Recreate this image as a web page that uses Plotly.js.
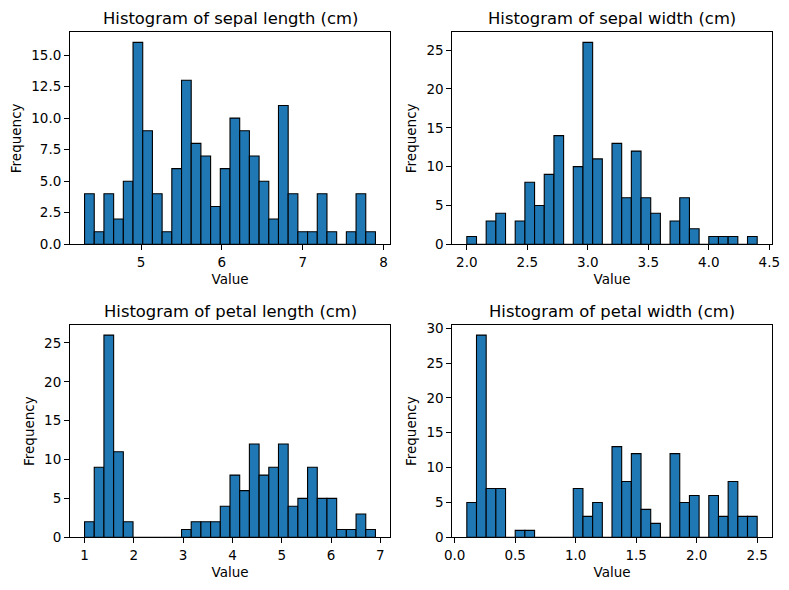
<!DOCTYPE html>
<html>
<head>
<meta charset="utf-8">
<script src="https://cdn.plot.ly/plotly-3.0.1.min.js"></script>
<style>html,body{margin:0;padding:0;background:#fff;}#chart{width:789px;height:590px;}</style>
</head>
<body>
<div id="chart"></div>
<script>
// Feature names and histogram data (30 bins each)
const features = ["sepal length (cm)", "sepal width (cm)", "petal length (cm)", "petal width (cm)"];
const binMin = [4.3, 2.0, 1.0, 0.1];
const binMax = [7.9, 4.4, 6.9, 2.5];
const sepalLengthCounts = [4,1,4,2,5,16,9,4,1,6,13,8,7,3,6,10,9,7,5,2,11,4,1,1,4,1,0,1,4,1];
const sepalWidthCounts  = [1,0,3,4,0,3,8,5,9,14,0,10,26,11,0,13,6,12,6,4,0,3,6,2,0,1,1,1,0,1];
const petalLengthCounts = [2,9,26,11,2,0,0,0,0,0,1,2,2,2,4,8,6,12,8,9,12,4,5,9,5,5,1,1,3,1];
const petalWidthCounts  = [5,29,7,7,0,1,1,0,0,0,0,7,3,5,0,13,8,12,4,2,0,12,5,6,0,6,3,8,3,3];
const allCounts = [sepalLengthCounts, sepalWidthCounts, petalLengthCounts, petalWidthCounts];
const xTickVals = [[5,6,7,8],[2.0,2.5,3.0,3.5,4.0,4.5],[1,2,3,4,5,6,7],[0.0,0.5,1.0,1.5,2.0,2.5]];
const xTickText = [["5","6","7","8"],["2.0","2.5","3.0","3.5","4.0","4.5"],["1","2","3","4","5","6","7"],["0.0","0.5","1.0","1.5","2.0","2.5"]];
const yTickVals = [[0,2.5,5,7.5,10,12.5,15],[0,5,10,15,20,25],[0,5,10,15,20,25],[0,5,10,15,20,25,30]];
const yTickText = [["0.0","2.5","5.0","7.5","10.0","12.5","15.0"],["0","5","10","15","20","25"],["0","5","10","15","20","25"],["0","5","10","15","20","25","30"]];

const W = 789, H = 590;
// axes boxes in pixels [left, right, top, bottom]
const boxes = [[70,390,32.3,244.3],[452.3,771.7,32.3,244.3],[70,390,325,537.3],[452.3,771.7,325,537.3]];

const font = "DejaVu Sans, sans-serif";
const traces = [];
const layout = {
  width: W, height: H,
  margin: {l:0, r:0, t:0, b:0},
  paper_bgcolor: "#ffffff", plot_bgcolor: "#ffffff",
  showlegend: false, bargap: 0,
  font: {family: font, size: 13.5, color: "#000"},
  annotations: []
};

for (let i = 0; i < 4; i++) {
  const n = allCounts[i].length;
  const w = (binMax[i] - binMin[i]) / n;
  const xs = allCounts[i].map((_, k) => binMin[i] + (k + 0.5) * w);
  const suffix = i === 0 ? "" : String(i + 1);
  traces.push({
    type: "bar", x: xs, y: allCounts[i], width: xs.map(() => w),
    xaxis: "x" + suffix, yaxis: "y" + suffix,
    marker: {color: "#1f77b4", line: {color: "#000000", width: 1.1}},
    hoverinfo: "x+y"
  });
  const b = boxes[i];
  const pad = (binMax[i] - binMin[i]) * 0.05;
  const ymax = Math.max(...allCounts[i]) * 1.05;
  const axCommon = {
    showline: true, mirror: true, linecolor: "#000", linewidth: 1,
    showgrid: false, zeroline: false,
    ticks: "outside", ticklen: 5, tickwidth: 1, tickcolor: "#000",
    tickfont: {family: font, size: 13.5, color: "#000"}
  };
  layout["xaxis" + suffix] = Object.assign({}, axCommon, {
    domain: [b[0] / W, b[1] / W],
    anchor: "y" + suffix,
    range: [binMin[i] - pad, binMax[i] + pad],
    tickmode: "array", tickvals: xTickVals[i], ticktext: xTickText[i],
    title: {text: "Value", font: {family: font, size: 13.5, color: "#000"}, standoff: 6}
  });
  layout["yaxis" + suffix] = Object.assign({}, axCommon, {
    domain: [1 - b[3] / H, 1 - b[2] / H],
    anchor: "x" + suffix,
    range: [0, ymax],
    tickmode: "array", tickvals: yTickVals[i], ticktext: yTickText[i],
    title: {text: "Frequency", font: {family: font, size: 13.5, color: "#000"}, standoff: 6}
  });
  layout.annotations.push({
    text: "Histogram of " + features[i],
    xref: "paper", yref: "paper",
    x: (b[0] + b[1]) / 2 / W, y: 1 - b[2] / H,
    xanchor: "center", yanchor: "bottom", yshift: 2,
    showarrow: false,
    font: {family: font, size: 16.4, color: "#000"}
  });
}

Plotly.newPlot("chart", traces, layout, {displayModeBar: false, staticPlot: true});
</script>
</body>
</html>
